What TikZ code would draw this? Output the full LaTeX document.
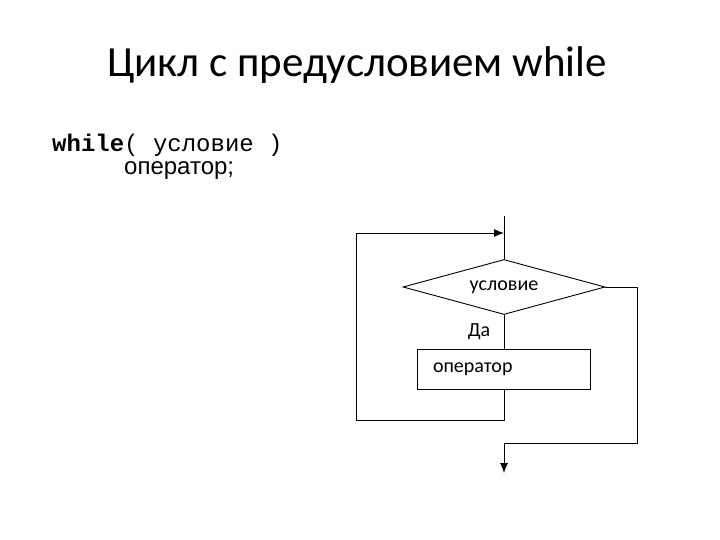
\documentclass[tikz,border=0pt]{standalone}
\usepackage{fontspec}
\setmainfont{Carlito}
\newfontfamily\codefont{Liberation Mono}
\newfontfamily\arialfont{Liberation Sans}
\usepackage{tikz}
\usetikzlibrary{shapes,arrows.meta,positioning}
\tikzstyle{title} = [anchor=base, inner sep=0pt, font=\fontsize{43}{47}\selectfont]
\tikzstyle{code} = [anchor=base west, inner sep=0pt, font=\codefont\fontsize{24}{26}\selectfont]
\tikzstyle{plain} = [anchor=base west, inner sep=0pt, font=\arialfont\fontsize{24}{26}\selectfont]
\tikzstyle{cond} = [diamond, draw=black, line width=0.9pt, aspect=3.67, minimum width=202pt, minimum height=55pt, inner sep=0pt, font=\fontsize{20}{22}\selectfont]
\tikzstyle{stmt} = [rectangle, draw=black, line width=0.9pt, minimum width=173pt, minimum height=40pt, text width=142pt, align=left, inner sep=0pt, font=\fontsize{20}{22}\selectfont]
\tikzstyle{line} = [draw, line width=0.9pt]
\tikzstyle{tedge}  = [draw, line width=0.9pt, >={Latex[length=10pt,width=8pt]}, ->]

\begin{document}
\begin{tikzpicture}[x=1pt, y=-1pt]
\useasboundingbox (0,0) rectangle (720,540);

% texts ==================================

\node[title] (head) at (357,77) {Цикл с предусловием while};
\node[code] (code) at (52,152) {\textbf{while}( условие )};
\node[plain] (body) at (124,175) {оператор;};

% blocks =================================

\coordinate (top) at (504,216);
\coordinate (loopin) at (504,233);
\node[cond] (cond) at (504,287) {условие};
\node[stmt] (stmt) at (504,369) {оператор};
\coordinate (back) at (356,420);
\coordinate (exit) at (637,443);
\coordinate (exitmid) at (504,443);
\coordinate (out) at (504,473);

%edges
\path[line] (top) -- (cond.north);
\path[line] (cond.south) -- node[left=10pt, font=\fontsize{20}{22}\selectfont] {Да} (stmt.north);
\path[tedge] (stmt.south) |- (back) |- (loopin);
\path[line] (cond.east) -| (exit) -- (exitmid);
\path[tedge] (exitmid) -- (out);

\end{tikzpicture}
\end{document}
